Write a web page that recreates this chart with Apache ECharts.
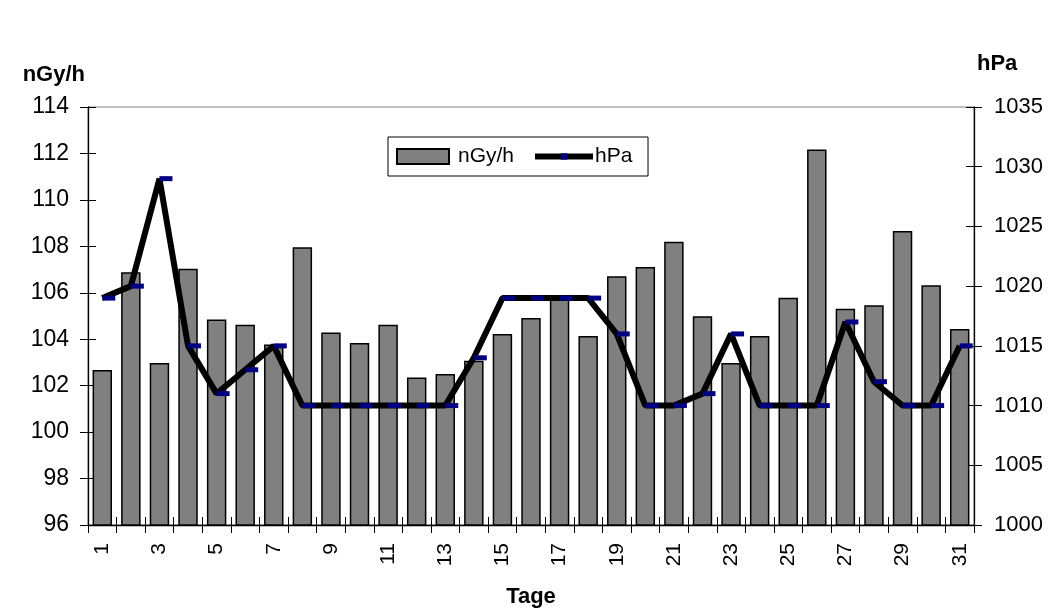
<!DOCTYPE html>
<html>
<head>
<meta charset="utf-8">
<script src="https://cdn.jsdelivr.net/npm/echarts@6/dist/echarts.min.js"></script>
<style>html,body{margin:0;padding:0;background:#fff;overflow:hidden;width:1052px;height:613px}#c{width:1052px;height:613px}</style>
</head>
<body>
<div id="c"></div>
<script>
const days = ['1','2','3','4','5','6','7','8','9','10','11','12','13','14','15','16','17','18','19','20','21','22','23','24','25','26','27','28','29','30','31'];
const doseRate = [102.67,106.88,102.98,107.03,104.85,104.62,103.77,107.96,104.29,103.84,104.62,102.35,102.5,103.07,104.22,104.91,105.72,104.14,106.71,107.11,108.2,104.99,102.98,104.14,105.79,112.17,105.31,105.46,108.66,106.32,104.44];
const pressure = [1019,1020,1029,1015,1011,1013,1015,1010,1010,1010,1010,1010,1010,1014,1019,1019,1019,1019,1016,1010,1010,1011,1016,1010,1010,1010,1017,1012,1010,1010,1015];
const leftTicks = {min:96, max:114, interval:2};
const rightTicks = {min:1000, max:1035, interval:5};

const FONT = '"Liberation Sans", Arial, sans-serif';
const chart = echarts.init(document.getElementById('c'));
const hidden = {axisLabel:{show:false}, axisLine:{show:false}, splitLine:{show:false}};
chart.setOption({
  animation:false,
  textStyle:{fontFamily:FONT},
  grid:{left:88, right:78, top:107, bottom:85, show:true, borderColor:'#808080', borderWidth:1, containLabel:false},
  legend:[{
    left:388, top:137, itemWidth:52, itemHeight:15, icon:'rect',
    padding:[9,134,9,8], borderColor:'#000', borderWidth:1, backgroundColor:'#fff',
    textStyle:{fontSize:21, color:'#000', fontFamily:FONT, padding:[0,0,0,4]},
    data:['nGy/h'], z:4
  },{
    left:532, top:146, itemWidth:58, itemHeight:8, padding:0,
    lineStyle:{width:6, color:'#000'},
    textStyle:{fontSize:21, color:'#000', fontFamily:FONT, padding:[0,0,0,-3]},
    data:['hPa'], z:6
  }],
  xAxis:[{
    type:'category', data:days, position:'bottom',
    name:'Tage', nameLocation:'middle', nameGap:61,
    nameTextStyle:{fontSize:22, fontWeight:'bold', color:'#000', fontFamily:FONT},
    axisLine:{lineStyle:{color:'#000', width:1.3}},
    axisTick:{show:true, interval:0, length:8, lineStyle:{color:'#000'}},
    axisLabel:{interval:1, rotate:90, fontSize:21, color:'#000', margin:18, fontFamily:FONT},
    splitLine:{show:false}
  },{
    type:'category', data:days, position:'bottom',
    axisTick:{show:true, inside:true, interval:0, length:8, lineStyle:{color:'#000'}},
    axisLabel:{show:false}, axisLine:{show:false}, splitLine:{show:false}
  }],
  yAxis:[{
    type:'value', position:'left', min:leftTicks.min, max:leftTicks.max, interval:leftTicks.interval,
    name:'nGy/h', nameLocation:'end', nameGap:21,
    nameTextStyle:{fontSize:22, fontWeight:'bold', color:'#000', align:'right', padding:[0,3,0,0], fontFamily:FONT},
    axisLine:{show:true, lineStyle:{color:'#000', width:1.3}},
    axisTick:{show:true, length:8, lineStyle:{color:'#000'}},
    axisLabel:{fontSize:23, color:'#000', margin:19, fontFamily:FONT},
    splitLine:{show:false}
  },{
    type:'value', position:'right', min:rightTicks.min, max:rightTicks.max, interval:rightTicks.interval,
    name:'hPa', nameLocation:'end', nameGap:32,
    nameTextStyle:{fontSize:22, fontWeight:'bold', color:'#000', align:'left', padding:[0,0,0,3], fontFamily:FONT},
    axisLine:{show:true, lineStyle:{color:'#000', width:1.3}},
    axisTick:{show:true, length:8, lineStyle:{color:'#000'}},
    axisLabel:{fontSize:22, color:'#000', margin:20, fontFamily:FONT, formatter:function(v){return String(v);}},
    splitLine:{show:false}
  },Object.assign({
    type:'value', position:'left', min:leftTicks.min, max:leftTicks.max, interval:leftTicks.interval,
    axisTick:{show:true, inside:true, length:8, lineStyle:{color:'#000'}}
  }, hidden),Object.assign({
    type:'value', position:'right', min:rightTicks.min, max:rightTicks.max, interval:rightTicks.interval,
    axisTick:{show:true, inside:true, length:8, lineStyle:{color:'#000'}}
  }, hidden)],
  series:[{
    name:'nGy/h', type:'bar', data:doseRate, xAxisIndex:0, yAxisIndex:0,
    barCategoryGap:'32%',
    itemStyle:{color:'#808080', borderColor:'#000', borderWidth:1.5}
  },{
    name:'hPa', type:'line', data:pressure, xAxisIndex:0, yAxisIndex:1,
    lineStyle:{color:'#000', width:6},
    symbol:'rect', symbolSize:[13,5], symbolOffset:[6.5,0],
    itemStyle:{color:'#000080', borderWidth:0},
    z:5
  }]
});
</script>
</body>
</html>
